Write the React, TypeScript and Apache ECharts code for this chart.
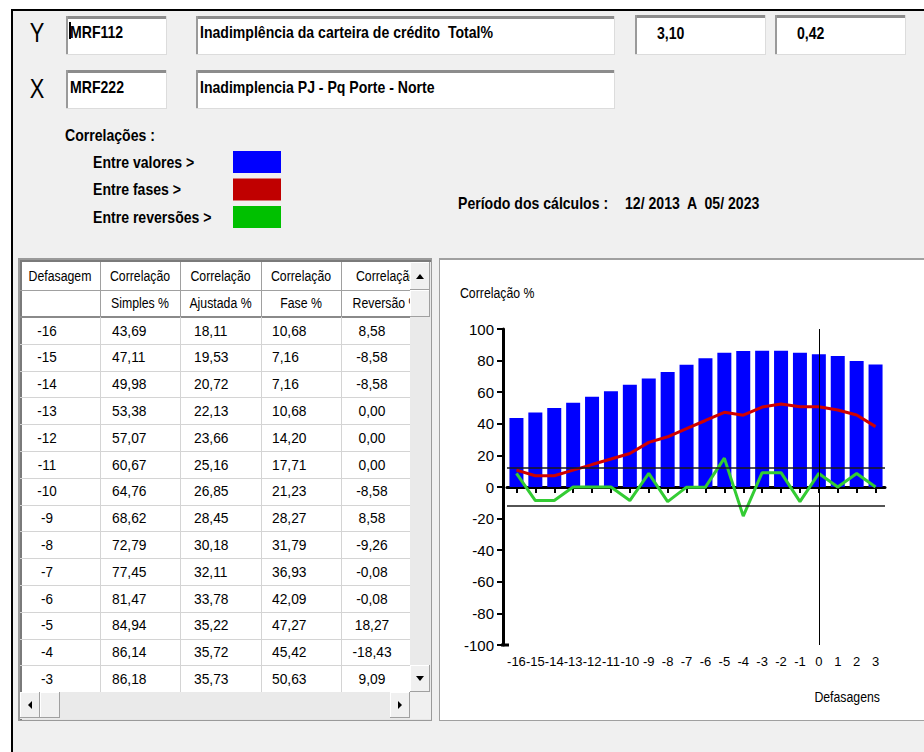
import React, { useEffect, useRef } from "react";
import * as echarts from "echarts";

// ---------------- data ----------------
const lags = [-16, -15, -14, -13, -12, -11, -10, -9, -8, -7, -6, -5, -4, -3, -2, -1, 0, 1, 2, 3];
const simples = [43.69, 47.11, 49.98, 53.38, 57.07, 60.67, 64.76, 68.62, 72.79, 77.45, 81.47, 84.94, 86.14, 86.18, 86.3, 85.0, 84.0, 82.9, 79.7, 77.6];
const ajustada = [18.11, 19.53, 20.72, 22.13, 23.66, 25.16, 26.85, 28.45, 30.18, 32.11, 33.78, 35.22, 35.72, 35.73];
const fase = [10.68, 7.16, 7.16, 10.68, 14.2, 17.71, 21.23, 28.27, 31.79, 36.93, 42.09, 47.27, 45.42, 50.63, 52.5, 50.8, 50.8, 48.7, 45.6, 38.2];
const reversao = [8.58, -8.58, -8.58, 0.0, 0.0, 0.0, -8.58, 8.58, -9.26, -0.08, -0.08, 18.27, -18.43, 9.09, 9.09, -9.26, 8.58, 0.0, 8.58, 0.0];
const thresholds = [12, -12];
const visibleRows = 14;
const headerTop = ["Defasagem", "Correlação", "Correlação", "Correlação", "Correlação"];
const headerBottom = ["", "Simples %", "Ajustada %", "Fase %", "Reversão %"];
const legendItems = ["Entre valores >", "Entre fases >", "Entre reversões >"];
const seriesColors = ["#0000ff", "#c00000", "#00c000"];
const yCode = "MRF112";
const yName = "Inadimplência da carteira de crédito  Total%";
const xCode = "MRF222";
const xName = "Inadimplencia PJ - Pq Porte - Norte";
const stat1 = "3,10";
const stat2 = "0,42";
const periodLabel = "Período dos cálculos :";
const periodValue = "12/ 2013  A  05/ 2023";

// ---------------- helpers ----------------
const FF = '"Liberation Sans", Arial, sans-serif';

function txt(text: string, x: number, y: number, size: number, o: any = {}) {
  const align = o.align || "left";
  return {
    type: "text",
    x,
    y,
    scaleX: o.sx ?? 0.89,
    z: o.z ?? -18,
    silent: true,
    style: {
      text,
      fill: o.color || "#000",
      fontSize: size,
      fontFamily: FF,
      fontWeight: o.weight || "normal",
      textAlign: align,
      textVerticalAlign: "middle",
      align,
      verticalAlign: "middle",
    },
  };
}
function rect(x: number, y: number, w: number, h: number, fill: string, z = -20) {
  return { type: "rect", z, silent: true, shape: { x, y, width: w, height: h }, style: { fill } };
}
function poly(points: number[][], fill: string, z = -14) {
  return { type: "polygon", z, silent: true, shape: { points }, style: { fill } };
}
function sunken(x: number, y: number, w: number, h: number) {
  return [
    rect(x, y, w, h, "#ffffff", -22),
    rect(x, y, w, 3, "#8c8c8c", -21),
    rect(x, y, 2, h, "#9a9a9a", -21),
    rect(x, y + h - 1, w, 1, "#dcdcdc", -21),
    rect(x + w - 1, y, 1, h, "#dcdcdc", -21),
  ];
}
function raised(x: number, y: number, w: number, h: number) {
  return [
    rect(x, y, w, h, "#a0a0a0", -16),
    rect(x, y, w - 1, h - 1, "#ffffff", -16),
    rect(x + 1, y + 1, w - 2, h - 2, "#f0f0f0", -15),
  ];
}
const fmt = (v: number) => v.toFixed(2).replace(".", ",");
const B = { weight: "bold", sx: 0.88 };

function buildGraphics() {
  const g: any[] = [];
  // window background
  g.push(rect(12, 10, 912, 742, "#f0f0f0", -30));
  g.push(rect(12, 9, 912, 2, "#000000", -29));
  g.push(rect(11, 9, 2, 743, "#000000", -29));

  // Y / X rows
  g.push(txt("Y", 37, 32, 28, { align: "center", sx: 0.78 }));
  g.push(txt("X", 37, 88, 28, { align: "center", sx: 0.78 }));
  g.push(...sunken(66, 16, 101, 39));
  g.push(...sunken(196, 16, 419, 39));
  g.push(...sunken(635, 15, 131, 40));
  g.push(...sunken(775, 15, 131, 40));
  g.push(...sunken(66, 70, 101, 39));
  g.push(...sunken(196, 70, 419, 39));
  g.push(txt(yCode, 70, 32, 16, B));
  g.push(rect(69, 22, 2, 17, "#000", -17));
  g.push(txt(yName, 200, 32, 16, B));
  g.push(txt(stat1, 657, 33, 16, B));
  g.push(txt(stat2, 797, 33, 16, B));
  g.push(txt(xCode, 70, 87, 16, B));
  g.push(txt(xName, 200, 87, 16, B));

  // legend
  g.push(txt("Correlações :", 65, 135, 16, B));
  legendItems.forEach((t, i) => {
    const cy = 162 + i * 27.5;
    g.push(txt(t, 93, cy, 16, B));
    g.push(rect(233, cy - 11, 48, 22, seriesColors[i], -20));
  });
  g.push(txt(periodLabel, 458, 203, 16, B));
  g.push(txt(periodValue, 625, 203, 16, B));

  // table frame
  const colX = [20, 100, 180, 261, 341, 431];
  const tTop = 262;
  const h1 = 290;
  const h2 = 317;
  const rowH = 26.8;
  const dataBottom = 692;
  g.push(rect(18, 258, 414, 463, "#9a9a9a", -25));
  g.push(rect(20, 260, 411, 460, "#e6e6e6", -24));
  g.push(rect(20, tTop, 390, dataBottom - tTop, "#ffffff", -23));
  g.push(rect(20, 260, 411, 2, "#7a7a7a", -22));
  g.push(rect(20, 260, 2, 460, "#7a7a7a", -22));
  // header lines
  g.push(rect(20, h1, 411, 1, "#a0a0a0", -19));
  g.push(rect(20, h2 - 1, 411, 2, "#8a8a8a", -19));
  for (let c = 1; c < 5; c++) {
    g.push(rect(colX[c], tTop, 1, h2 - tTop, "#a0a0a0", -19));
    g.push(rect(colX[c], h2, 1, dataBottom - h2, "#d4d4d4", -19));
  }
  for (let r = 1; r <= visibleRows; r++) {
    g.push(rect(20, Math.round(h2 + r * rowH), 390, 1, "#d4d4d4", -19));
  }
  headerTop.forEach((t, c) => {
    const cx = (colX[c] + colX[c + 1]) / 2;
    g.push(txt(t, cx, 276, 15, { align: "center", sx: 0.82 }));
    if (headerBottom[c]) g.push(txt(headerBottom[c], cx, 303.5, 15, { align: "center", sx: 0.82 }));
  });
  for (let r = 0; r < visibleRows; r++) {
    const cy = h2 + r * rowH + rowH / 2;
    g.push(txt(String(lags[r]), 47, cy, 15, { align: "center", sx: 0.9 }));
    g.push(txt(fmt(simples[r]), 112, cy, 15, { sx: 0.92 }));
    g.push(txt(fmt(ajustada[r]), 194, cy, 15, { sx: 0.92 }));
    g.push(txt(fmt(fase[r]), 272, cy, 15, { sx: 0.92 }));
    g.push(txt(fmt(reversao[r]), 372, cy, 15, { align: "center", sx: 0.92 }));
  }
  // vertical scrollbar
  g.push(rect(410, tTop, 21, dataBottom - tTop, "#eaeaea", -17));
  g.push(...raised(410, tTop, 20, 28));
  g.push(poly([[416, 279], [424, 279], [420, 274]], "#000"));
  g.push(...raised(410, 290, 20, 27));
  g.push(...raised(410, 665, 20, 27));
  g.push(poly([[416, 676], [424, 676], [420, 681]], "#000"));
  // horizontal scrollbar
  g.push(rect(20, dataBottom, 411, 27, "#eaeaea", -17));
  g.push(...raised(20, dataBottom, 20, 26));
  g.push(poly([[32, 701], [32, 709], [28, 705]], "#000"));
  g.push(...raised(40, dataBottom, 20, 26));
  g.push(...raised(390, dataBottom, 20, 26));
  g.push(poly([[398, 701], [398, 709], [402, 705]], "#000"));
  g.push(rect(410, dataBottom, 21, 27, "#f0f0f0", -15));

  // chart panel
  g.push(rect(439, 258, 485, 463, "#a0a0a0", -25));
  g.push(rect(440, 260, 484, 460, "#ffffff", -24));
  g.push(txt("Correlação %", 460, 293, 15, { sx: 0.82 }));
  g.push(txt("Defasagens", 880, 697, 15, { align: "right", sx: 0.82 }));
  // small extension of x axis line to the y axis
  g.push(rect(501, 643.5, 8, 3, "#000", 5));
  return g;
}

export default function App() {
  const ref = useRef<HTMLDivElement>(null);
  useEffect(() => {
    if (!ref.current) return;
    const chart = echarts.init(ref.current, undefined, { renderer: "svg" });
    const zeroIndex = lags.indexOf(0);
    chart.setOption({
      animation: false,
      backgroundColor: "#ffffff",
      graphic: { elements: buildGraphics() },
      grid: { left: 507, top: 329, width: 378, height: 316, containLabel: false },
      xAxis: {
        type: "category",
        data: lags.map(String),
        boundaryGap: true,
        axisLine: { show: true, lineStyle: { color: "#000", width: 3 } },
        axisTick: { show: true, alignWithLabel: true, length: 6, lineStyle: { color: "#000", width: 2 } },
        axisLabel: { interval: 0, margin: 10, color: "#000", fontSize: 13, fontFamily: FF },
        splitLine: { show: false },
      },
      yAxis: {
        type: "value",
        min: -100,
        max: 100,
        interval: 20,
        offset: 4,
        axisLine: { show: true, lineStyle: { color: "#000", width: 3 } },
        axisTick: { show: true, length: 6, lineStyle: { color: "#000", width: 2 } },
        axisLabel: { margin: 9, color: "#000", fontSize: 15, fontFamily: FF },
        splitLine: { show: false },
      },
      series: [
        {
          name: "Entre valores",
          type: "bar",
          data: simples,
          barWidth: 14,
          itemStyle: { color: seriesColors[0] },
          markLine: {
            silent: true,
            symbol: ["none", "none"],
            label: { show: false },
            lineStyle: { color: "#1a1a1a", width: 1.5, type: "solid" },
            data: [...thresholds.map((v) => ({ yAxis: v })), { xAxis: zeroIndex, lineStyle: { color: "#000", width: 1 } }],
          },
        },
        {
          name: "Entre fases",
          type: "line",
          data: fase,
          symbol: "none",
          lineStyle: { color: "#d00000", width: 3 },
          z: 3,
        },
        {
          name: "Entre reversões",
          type: "line",
          data: reversao,
          symbol: "none",
          lineStyle: { color: "#33cc33", width: 3 },
          z: 4,
        },
      ],
    });
    return () => chart.dispose();
  }, []);
  return <div ref={ref} style={{ position: "absolute", left: 0, top: 0, width: 924, height: 752 }} />;
}
